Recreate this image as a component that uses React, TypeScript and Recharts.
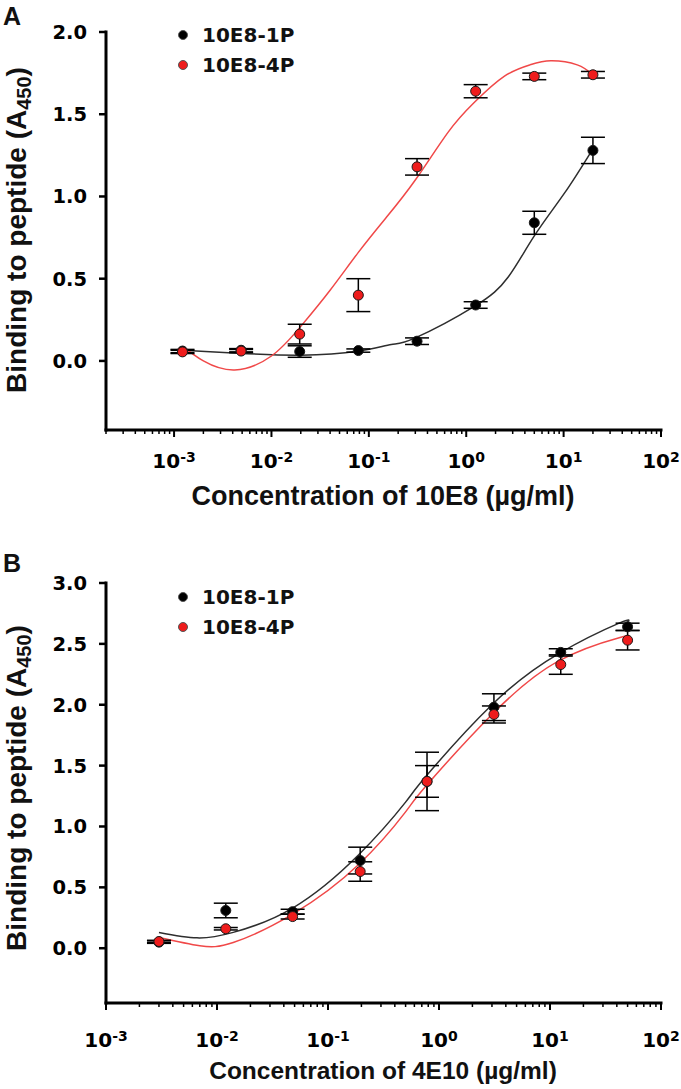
import React from 'react'
import { ComposedChart, Line, Scatter, ErrorBar, XAxis, YAxis, Legend } from 'recharts'

// ---- panel A: 10E8 titration (µg/ml) ----
const CONC_A = [0.00122, 0.00488, 0.0195, 0.078, 0.3125, 1.25, 5, 20]
const P1_A = [0.06, 0.065, 0.057, 0.063, 0.12, 0.34, 0.84, 1.28]
const P1_A_ERR = [0.01, 0.01, 0.035, 0.01, 0.02, 0.02, 0.07, 0.08]
const P4_A = [0.055, 0.06, 0.163, 0.4, 1.18, 1.64, 1.73, 1.74]
const P4_A_ERR = [0.01, 0.01, 0.06, 0.1, 0.05, 0.04, 0.02, 0.02]

// fitted curves
const FIT1_A_X = [0.00122, 0.0045, 0.02, 0.078, 0.17, 0.3, 1.2, 2.7, 5, 10.2, 20]
const FIT1_A_Y = [0.065, 0.047, 0.035, 0.06, 0.1, 0.14, 0.33, 0.51, 0.76, 1.02, 1.29]
const FIT4_A_X = [0.00122, 0.002, 0.0042, 0.01, 0.02, 0.04, 0.078, 0.15, 0.3, 0.65, 1.2, 2.45, 4.5, 7.4, 13.8, 20]
const FIT4_A_Y = [0.09, 0.0, -0.055, 0.03, 0.21, 0.43, 0.66, 0.87, 1.1, 1.39, 1.57, 1.73, 1.8, 1.825, 1.8, 1.74]

// ---- panel B: 4E10 titration (µg/ml) ----
const CONC_B = [0.003, 0.012, 0.048, 0.195, 0.78, 3.125, 12.5, 50]
const P1_B = [0.05, 0.31, 0.3, 0.72, 1.37, 1.98, 2.43, 2.64]
const P1_B_ERR = [0.01, 0.06, 0.02, 0.11, 0.24, 0.11, 0.03, 0.03]
const P4_B = [0.055, 0.16, 0.26, 0.63, 1.37, 1.92, 2.33, 2.53]
const P4_B_ERR = [0.01, 0.01, 0.02, 0.08, 0.13, 0.07, 0.08, 0.08]

const FIT1_B_X = [0.003, 0.0066, 0.014, 0.048, 0.19, 0.5, 0.76, 3, 12, 42, 50]
const FIT1_B_Y = [0.13, 0.085, 0.13, 0.33, 0.77, 1.2, 1.41, 2.0, 2.42, 2.67, 2.68]
const FIT4_B_X = [0.003, 0.007, 0.014, 0.048, 0.19, 0.5, 0.76, 3, 12, 42, 50]
const FIT4_B_Y = [0.088, 0.02, 0.047, 0.28, 0.69, 1.12, 1.33, 1.92, 2.36, 2.55, 2.56]

const LEGEND = [
  { name: '10E8-1P', color: '#000000' },
  { name: '10E8-4P', color: '#ee1c1c' },
]

const MAJOR_X = [0.001, 0.01, 0.1, 1, 10, 100]
const MINOR_STEPS = [2, 3, 4, 5, 6, 7, 8, 9]
const Y_TICKS_A = [0, 0.5, 1, 1.5, 2]
const Y_TICKS_B = [0, 0.5, 1, 1.5, 2, 2.5, 3]

const NUM_FONT = '"DejaVu Sans", sans-serif'
const TITLE_FONT = '"Liberation Sans", Arial, sans-serif'
const RED = '#ee1c1c'
const RED_LINE = '#f04848'
const BLACK_LINE = '#2e2e2e'

const zip = (xs: number[], ys: number[], es?: number[]) =>
  xs.map((x, i) => ({ x, y: ys[i], e: es ? es[i] : 0 }))

function xTicks(decades: number[]) {
  const minor = decades.flatMap((d) => MINOR_STEPS.map((k) => k * Math.pow(10, d)))
  return [...MAJOR_X, ...minor].sort((a, b) => a - b)
}

const isMajor = (v: number) => MAJOR_X.some((m) => Math.abs(m - v) / m < 1e-6)

function XTick({ x, y, payload, gap }: any) {
  const v = payload.value
  if (!isMajor(v)) {
    return <line x1={x} y1={y} x2={x} y2={y + 4} stroke="#000" strokeWidth={1.5} />
  }
  const exp = Math.round(Math.log10(v))
  return (
    <g>
      <line x1={x} y1={y} x2={x} y2={y + 7} stroke="#000" strokeWidth={2} />
      <text x={x} y={y + gap} textAnchor="middle" fontFamily={NUM_FONT} fontWeight="bold" fontSize={20} fill="#000">
        10<tspan dy={-6} fontSize={14}>{String(exp)}</tspan>
      </text>
    </g>
  )
}

function Dot({ cx, cy, fill }: any) {
  return <circle cx={cx} cy={cy} r={5} fill={fill} stroke="#1a1a1a" strokeWidth={1} />
}

function LegendBox() {
  return (
    <div>
      {LEGEND.map((l) => (
        <div key={l.name} style={{ display: 'flex', alignItems: 'center', height: 30 }}>
          <span style={{ display: 'inline-block', width: 10, height: 10, borderRadius: 5, background: l.color, border: '1px solid #555', boxSizing: 'border-box' }} />
          <span style={{ marginLeft: 14, fontFamily: NUM_FONT, fontWeight: 'bold', fontSize: 20, color: '#111' }}>{l.name}</span>
        </div>
      ))}
    </div>
  )
}

type PanelProps = {
  top: number
  height: number
  plotTop: number
  plotBottom: number
  letter: string
  letterY: number
  xDomain: [number, number]
  decades: number[]
  yDomain: [number, number]
  yTicks: number[]
  tickGap: number
  xTitle: string
  xTitleSize: number
  xTitleY: number
  yTitleY: number
  legendTop: number
  fit1: { x: number; y: number }[]
  fit4: { x: number; y: number }[]
  pts1: { x: number; y: number; e: number }[]
  pts4: { x: number; y: number; e: number }[]
}

function Panel(p: PanelProps) {
  const W = 681
  const right = 20
  const xAxisH = 80
  return (
    <div style={{ position: 'absolute', left: 0, top: p.top }}>
      <ComposedChart
        width={W}
        height={p.height}
        margin={{ top: p.plotTop, right, bottom: p.height - p.plotBottom - xAxisH, left: 0 }}
      >
        <XAxis
          type="number"
          dataKey="x"
          scale="log"
          domain={p.xDomain}
          allowDataOverflow
          ticks={xTicks(p.decades)}
          interval={0}
          height={xAxisH}
          tickSize={0}
          tickMargin={0}
          tickLine={false}
          axisLine={{ stroke: '#000', strokeWidth: 3, strokeLinecap: 'square' }}
          tick={(t: any) => <XTick {...t} gap={p.tickGap} />}
          label={{
            content: () => (
              <text x={383} y={p.xTitleY} textAnchor="middle" fontFamily={TITLE_FONT} fontWeight="bold" fontSize={p.xTitleSize} fill="#111">
                {p.xTitle}
              </text>
            ),
          }}
        />
        <YAxis
          type="number"
          dataKey="y"
          domain={p.yDomain}
          allowDataOverflow
          ticks={p.yTicks}
          width={106}
          tickSize={7}
          tickMargin={12}
          tickFormatter={(v: number) => v.toFixed(1)}
          tick={{ fontFamily: NUM_FONT, fontWeight: 'bold', fontSize: 19.5, fill: '#000' }}
          tickLine={{ stroke: '#000', strokeWidth: 2.5 }}
          axisLine={{ stroke: '#000', strokeWidth: 3, strokeLinecap: 'square' }}
          label={{
            content: () => (
              <g>
                <text x={3} y={p.letterY} fontFamily={TITLE_FONT} fontWeight="bold" fontSize={25} fill="#111">{p.letter}</text>
                <text
                  x={26}
                  y={p.yTitleY}
                  transform={`rotate(-90 26 ${p.yTitleY})`}
                  textAnchor="middle"
                  fontFamily={TITLE_FONT}
                  fontWeight="bold"
                  fontSize={28}
                  fill="#111"
                >
                  Binding to peptide (A<tspan fontSize={20} dy={5}>450</tspan><tspan dy={-5}>)</tspan>
                </text>
              </g>
            ),
          }}
        />
        <Legend
          layout="vertical"
          align="center"
          verticalAlign="middle"
          content={() => <LegendBox />}
          wrapperStyle={{ left: 178, top: p.legendTop, width: 160, height: 60 }}
        />
        <Line data={p.fit1} dataKey="y" type="natural" stroke={BLACK_LINE} strokeWidth={1.5} dot={false} isAnimationActive={false} legendType="none" />
        <Line data={p.fit4} dataKey="y" type="natural" stroke={RED_LINE} strokeWidth={1.5} dot={false} isAnimationActive={false} legendType="none" />
        <Scatter name="10E8-1P" data={p.pts1} dataKey="y" fill="#000" shape={(s: any) => <Dot {...s} fill="#000" />} isAnimationActive={false}>
          <ErrorBar dataKey="e" direction="y" width={12} stroke="#000" strokeWidth={1.5} />
        </Scatter>
        <Scatter name="10E8-4P" data={p.pts4} dataKey="y" fill={RED} shape={(s: any) => <Dot {...s} fill={RED} />} isAnimationActive={false}>
          <ErrorBar dataKey="e" direction="y" width={12} stroke="#000" strokeWidth={1.5} />
        </Scatter>
      </ComposedChart>
    </div>
  )
}

export default function App() {
  return (
    <div style={{ position: 'absolute', left: 0, top: 0, width: 681, height: 1089, background: '#fff' }}>
      <Panel
        top={0}
        height={520}
        plotTop={32}
        plotBottom={430}
        letter="A"
        letterY={25}
        xDomain={[0.0002, 100]}
        decades={[-4, -3, -2, -1, 0, 1]}
        yDomain={[-0.42, 2.0]}
        yTicks={Y_TICKS_A}
        tickGap={38}
        xTitle="Concentration of 10E8 (µg/ml)"
        xTitleSize={27}
        xTitleY={505}
        yTitleY={230}
        legendTop={20}
        fit1={zip(FIT1_A_X, FIT1_A_Y)}
        fit4={zip(FIT4_A_X, FIT4_A_Y)}
        pts1={zip(CONC_A, P1_A, P1_A_ERR)}
        pts4={zip(CONC_A, P4_A, P4_A_ERR)}
      />
      <Panel
        top={540}
        height={549}
        plotTop={43}
        plotBottom={463}
        letter="B"
        letterY={32}
        xDomain={[0.001, 100]}
        decades={[-3, -2, -1, 0, 1]}
        yDomain={[-0.45, 3.0]}
        yTicks={Y_TICKS_B}
        tickGap={44}
        xTitle="Concentration of 4E10 (µg/ml)"
        xTitleSize={24.5}
        xTitleY={539}
        yTitleY={248}
        legendTop={42}
        fit1={zip(FIT1_B_X, FIT1_B_Y)}
        fit4={zip(FIT4_B_X, FIT4_B_Y)}
        pts1={zip(CONC_B, P1_B, P1_B_ERR)}
        pts4={zip(CONC_B, P4_B, P4_B_ERR)}
      />
    </div>
  )
}
